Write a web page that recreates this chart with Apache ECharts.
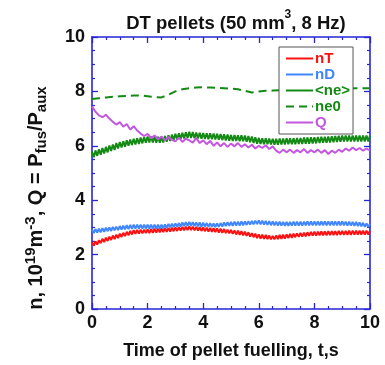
<!DOCTYPE html>
<html><head><meta charset="utf-8">
<script src="https://cdn.jsdelivr.net/npm/echarts@6/dist/echarts.min.js"></script>
<style>html,body{margin:0;padding:0;background:#fff}#c{width:385px;height:365px}</style>
</head><body><div id="c"></div>
<script>
// time step of the pellet-resolved series (s)
const dtFast = 0.0625, dtQ = 0.125, dtNe0 = 0.25;
const xTicks = [0,2,4,6,8,10];
const yTicks = [0,2,4,6,8,10];
const names = ['nT','nD','<ne>','ne0','Q'];

const nT = [
2.45,2.33,2.49,2.37,2.53,2.42,2.58,2.46,
2.62,2.50,2.66,2.54,2.70,2.57,2.73,2.61,
2.77,2.65,2.80,2.68,2.84,2.71,2.87,2.74,
2.90,2.76,2.91,2.77,2.92,2.78,2.92,2.79,
2.93,2.79,2.94,2.80,2.95,2.81,2.95,2.82,
2.96,2.83,2.97,2.84,2.98,2.85,2.99,2.86,
3.00,2.87,3.01,2.88,3.02,2.89,3.03,2.90,
3.04,2.90,3.03,2.89,3.02,2.88,3.01,2.87,
3.00,2.86,2.99,2.85,2.98,2.84,2.97,2.83,
2.96,2.81,2.95,2.80,2.94,2.79,2.92,2.78,
2.91,2.76,2.89,2.74,2.88,2.73,2.86,2.71,
2.84,2.69,2.82,2.66,2.79,2.64,2.77,2.61,
2.74,2.59,2.73,2.58,2.72,2.57,2.70,2.56,
2.69,2.56,2.70,2.57,2.72,2.58,2.73,2.59,
2.74,2.61,2.76,2.62,2.77,2.64,2.78,2.65,
2.80,2.66,2.81,2.67,2.82,2.69,2.83,2.70,
2.84,2.70,2.84,2.71,2.85,2.71,2.85,2.71,
2.86,2.72,2.86,2.72,2.86,2.72,2.87,2.73,
2.87,2.73,2.87,2.73,2.88,2.73,2.88,2.74,
2.88,2.74,2.88,2.74,2.88,2.74,2.88,2.74,
2.88];

const nD = [
2.92,2.79,2.94,2.81,2.95,2.82,2.97,2.84,
2.99,2.86,3.00,2.87,3.02,2.89,3.03,2.90,
3.05,2.92,3.06,2.93,3.08,2.94,3.09,2.95,
3.10,2.96,3.10,2.96,3.10,2.96,3.10,2.96,
3.10,2.96,3.10,2.96,3.10,2.96,3.10,2.96,
3.10,2.97,3.11,2.98,3.13,3.00,3.14,3.01,
3.15,3.02,3.16,3.03,3.18,3.05,3.19,3.06,
3.20,3.06,3.19,3.05,3.18,3.04,3.18,3.03,
3.17,3.03,3.16,3.02,3.16,3.02,3.15,3.01,
3.15,3.02,3.16,3.03,3.18,3.05,3.19,3.06,
3.20,3.06,3.21,3.07,3.21,3.07,3.22,3.08,
3.22,3.09,3.23,3.10,3.24,3.11,3.25,3.12,
3.26,3.11,3.25,3.10,3.24,3.09,3.23,3.08,
3.22,3.08,3.21,3.07,3.21,3.07,3.20,3.06,
3.20,3.06,3.20,3.07,3.21,3.07,3.21,3.07,
3.21,3.07,3.21,3.08,3.22,3.08,3.22,3.08,
3.22,3.08,3.22,3.08,3.22,3.08,3.22,3.08,
3.22,3.08,3.22,3.08,3.22,3.08,3.22,3.08,
3.22,3.08,3.21,3.07,3.21,3.07,3.20,3.06,
3.20,3.05,3.18,3.04,3.17,3.02,3.15,3.01,
3.14];

const neAvg = [
5.78,5.58,5.83,5.63,5.87,5.67,5.92,5.72,
5.96,5.76,6.01,5.81,6.05,5.85,6.10,5.90,
6.14,5.94,6.17,5.97,6.20,6.00,6.23,6.03,
6.26,6.05,6.28,6.07,6.30,6.09,6.32,6.11,
6.34,6.12,6.34,6.12,6.33,6.11,6.33,6.11,
6.33,6.12,6.36,6.15,6.39,6.18,6.41,6.21,
6.44,6.23,6.46,6.25,6.48,6.27,6.50,6.29,
6.52,6.29,6.51,6.28,6.49,6.27,6.48,6.26,
6.47,6.25,6.46,6.24,6.46,6.24,6.45,6.23,
6.44,6.22,6.43,6.21,6.42,6.20,6.41,6.19,
6.40,6.18,6.40,6.18,6.39,6.17,6.39,6.17,
6.38,6.15,6.36,6.13,6.34,6.10,6.31,6.08,
6.29,6.07,6.28,6.06,6.28,6.06,6.27,6.05,
6.26,6.04,6.26,6.04,6.27,6.05,6.27,6.05,
6.28,6.06,6.28,6.06,6.28,6.06,6.29,6.07,
6.29,6.07,6.30,6.08,6.30,6.08,6.31,6.09,
6.31,6.09,6.32,6.10,6.33,6.11,6.33,6.11,
6.34,6.12,6.35,6.13,6.36,6.14,6.37,6.15,
6.38,6.16,6.38,6.16,6.38,6.16,6.38,6.16,
6.38,6.16,6.38,6.16,6.38,6.16,6.38,6.16,
6.38];

const ne0 = [7.72,7.75,7.78,7.80,7.82,7.83,7.85,7.85,7.82,7.79,7.78,7.88,8.00,8.08,8.12,8.14,8.15,8.14,8.13,8.12,8.10,8.08,8.02,7.96,8.00,8.02,8.03,8.04,8.05,8.06,8.07,8.08,8.08,8.09,8.10,8.10,8.11,8.11,8.12,8.12,8.12];

const Q = [7.45,7.25,7.12,7.05,7.14,7.00,6.88,6.78,
6.87,6.70,6.80,6.60,6.72,6.56,6.45,6.36,
6.44,6.28,6.38,6.24,6.34,6.20,6.32,6.22,
6.16,6.30,6.14,6.26,6.20,6.12,6.28,6.10,
6.20,6.06,6.18,6.00,6.12,5.98,6.10,5.96,
6.08,5.98,6.10,5.96,6.06,5.94,6.04,5.90,
6.00,5.92,6.02,5.88,5.98,5.82,5.74,5.86,
5.76,5.86,5.74,5.84,5.76,5.88,5.74,5.84,
5.76,5.86,5.74,5.84,5.70,5.82,5.74,5.86,
5.78,5.90,5.82,5.94,5.84,5.92,5.82,5.90,
5.82];

const colors = {nT:'#ff1010', nD:'#3f86ff', ne:'#138a13', Q:'#c457e0'};
const axisBlue = '#2626d6';
const FONT = '"Liberation Sans", Arial, sans-serif';

const pairs = (arr, dt) => arr.map((v, i) => [+(i*dt).toFixed(4), v]);

const axisCommon = (isX, pos, labels) => ({
  type:'value', position: pos, min:0, max:10, interval:2,
  axisLine:{show:true, onZero:false, lineStyle:{color:axisBlue, width:1.6}},
  axisTick:{show:true, inside:true, length:6, lineStyle:{color:axisBlue, width:1.3}},
  minorTick:{show:true, splitNumber:4, length:3, lineStyle:{color:axisBlue, width:1.2}},
  splitLine:{show:false}, minorSplitLine:{show:false},
  axisLabel:{show:labels, color:'#111', fontFamily:FONT, fontWeight:'bold', fontSize:18, margin: isX?5:7}
});

const chart = echarts.init(document.getElementById('c'), null, {renderer:'canvas'});
chart.setOption({
  animation:false,
  backgroundColor:'#fff',
  title:{
    text:'{a|DT pellets (50 mm}{s|3}{a|, 8 Hz)}',
    left:231, top:4, textAlign:'center',
    textStyle:{rich:{
      a:{fontFamily:FONT, fontWeight:'bold', fontSize:18.5, color:'#111', lineHeight:24, verticalAlign:'bottom'},
      s:{fontFamily:FONT, fontWeight:'bold', fontSize:12, color:'#111', lineHeight:12, verticalAlign:'top'}
    }}
  },
  grid:{left:92, right:15, top:37, bottom:52, containLabel:false},
  xAxis:[
    Object.assign(axisCommon(true,'bottom',true), {
      name:'Time of pellet fuelling, t,s', nameLocation:'middle', nameGap:33,
      nameTextStyle:{fontFamily:FONT, fontWeight:'bold', fontSize:18, color:'#111'}
    }),
    axisCommon(true,'top',false)
  ],
  yAxis:[
    axisCommon(false,'left',true),
    axisCommon(false,'right',false)
  ],
  legend:{
    orient:'vertical', left:279, top:47,
    padding:[4,3,4,6], itemGap:1, itemWidth:27, itemHeight:14,
    backgroundColor:'#fff', borderColor:'#555', borderWidth:1,
    itemStyle:{color:'transparent', borderColor:'transparent', borderWidth:0},
    textStyle:{fontFamily:FONT, fontWeight:'bold', fontSize:15, lineHeight:14, padding:[0,0,0,-3]},
    data:[
      {name:'nT', textStyle:{color:colors.nT}},
      {name:'nD', textStyle:{color:colors.nD}},
      {name:'<ne>', textStyle:{color:colors.ne}},
      {name:'ne0', textStyle:{color:colors.ne}},
      {name:'Q', textStyle:{color:colors.Q}}
    ]
  },
  graphic:[{
    type:'text', x:36, y:198, rotation:Math.PI/2,
    style:{
      text:'{a|n, 10}{p|19}{a|m}{p|-3}{a|, Q = P}{b|fus}{a|/P}{b|aux}',
      textAlign:'center', textVerticalAlign:'middle',
      rich:{
        a:{fontFamily:FONT, fontWeight:'bold', fontSize:20, fill:'#111', lineHeight:26, verticalAlign:'middle'},
        p:{fontFamily:FONT, fontWeight:'bold', fontSize:15, fill:'#111', lineHeight:15, verticalAlign:'top'},
        b:{fontFamily:FONT, fontWeight:'bold', fontSize:15, fill:'#111', lineHeight:15, verticalAlign:'bottom'}
      }
    }
  }],
  series:[
    {name:'nT', type:'line', data:pairs(nT, dtFast), showSymbol:false, symbol:'none',
     lineStyle:{color:colors.nT, width:2}, itemStyle:{color:colors.nT}},
    {name:'nD', type:'line', data:pairs(nD, dtFast), showSymbol:false, symbol:'none',
     lineStyle:{color:colors.nD, width:2}, itemStyle:{color:colors.nD}},
    {name:'<ne>', type:'line', data:pairs(neAvg, dtFast), showSymbol:false, symbol:'none',
     lineStyle:{color:colors.ne, width:2}, itemStyle:{color:colors.ne}},
    {name:'ne0', type:'line', data:pairs(ne0, dtNe0), showSymbol:false, symbol:'none',
     lineStyle:{color:colors.ne, width:2, type:[8,5]}, itemStyle:{color:colors.ne}},
    {name:'Q', type:'line', data:pairs(Q, dtQ), showSymbol:false, symbol:'none',
     lineStyle:{color:colors.Q, width:2}, itemStyle:{color:colors.Q}}
  ]
});
</script></body></html>
